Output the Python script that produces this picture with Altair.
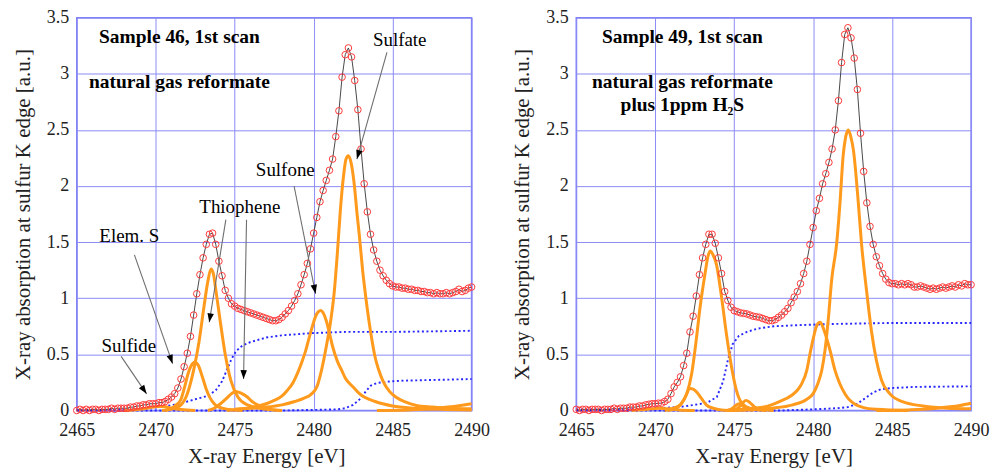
import math
import altair as alt
import pandas as pd

FONT = "Liberation Serif"
W, H = 396, 394
X_DOMAIN = [2465, 2490]
Y_DOMAIN = [0, 3.5]
X_TICKS = [2465, 2470, 2475, 2480, 2485, 2490]
Y_TICKS = [0, 0.5, 1, 1.5, 2, 2.5, 3, 3.5]

# ---------------- measured scan energies (eV) ----------------
ENERGY = [
    2465.0, 2465.2, 2465.4, 2465.6, 2465.8, 2466.0, 2466.2, 2466.4, 2466.6, 2466.8,
    2467.0, 2467.2, 2467.4, 2467.6, 2467.8, 2468.0, 2468.2, 2468.4, 2468.6, 2468.8,
    2469.0, 2469.2, 2469.4, 2469.6, 2469.8, 2470.0, 2470.2, 2470.4, 2470.6, 2470.8,
    2471.0, 2471.2, 2471.4, 2471.6, 2471.8, 2472.0, 2472.2, 2472.4, 2472.6, 2472.8,
    2473.0, 2473.2, 2473.4, 2473.6, 2473.8, 2474.0, 2474.2, 2474.4, 2474.6, 2474.8,
    2475.0, 2475.2, 2475.4, 2475.6, 2475.8, 2476.0, 2476.2, 2476.4, 2476.6, 2476.8,
    2477.0, 2477.2, 2477.4, 2477.6, 2477.8, 2478.0, 2478.2, 2478.4, 2478.6, 2478.8,
    2479.0, 2479.2, 2479.4, 2479.6, 2479.8, 2480.0, 2480.2, 2480.4, 2480.6, 2480.8,
    2481.0, 2481.2, 2481.4, 2481.6, 2481.8, 2482.0, 2482.2, 2482.4, 2482.6, 2482.8,
    2483.0, 2483.2, 2483.4, 2483.6, 2483.8, 2484.0, 2484.2, 2484.4, 2484.6, 2484.8,
    2485.0, 2485.2, 2485.4, 2485.6, 2485.8, 2486.0, 2486.2, 2486.4, 2486.6, 2486.8,
    2487.0, 2487.2, 2487.4, 2487.6, 2487.8, 2488.0, 2488.2, 2488.4, 2488.6, 2488.8,
    2489.0, 2489.2, 2489.4, 2489.6, 2489.8, 2490.0,
]

# ---------------- Sample 46 (left) ----------------
S46_DATA = [
    0.00, 0.01, 0.00, 0.01, 0.00, 0.01, 0.01, 0.00, 0.01, 0.01,
    0.01, 0.02, 0.01, 0.02, 0.02, 0.02, 0.02, 0.03, 0.03, 0.04,
    0.04, 0.05, 0.05, 0.06, 0.06, 0.06, 0.07, 0.07, 0.08, 0.10,
    0.12, 0.15, 0.20, 0.28, 0.39, 0.51, 0.66, 0.85, 1.04, 1.21,
    1.36, 1.48, 1.57, 1.58, 1.48, 1.33, 1.20, 1.07, 1.00, 0.95,
    0.93, 0.91, 0.90, 0.89, 0.88, 0.87, 0.86, 0.85, 0.84, 0.83,
    0.82, 0.81, 0.80, 0.80, 0.81, 0.83, 0.86, 0.89, 0.93, 0.98,
    1.04, 1.12, 1.21, 1.31, 1.44, 1.58, 1.72, 1.86, 1.96, 2.05,
    2.14, 2.24, 2.44, 2.67, 2.97, 3.17, 3.23, 3.15, 2.94, 2.68,
    2.33, 2.02, 1.77, 1.57, 1.43, 1.33, 1.25, 1.20, 1.16, 1.13,
    1.11, 1.10, 1.10, 1.09, 1.09, 1.08, 1.08, 1.07, 1.07, 1.06,
    1.06, 1.05, 1.05, 1.04, 1.05, 1.04, 1.04, 1.05, 1.04, 1.05,
    1.06, 1.08, 1.06, 1.07, 1.09, 1.10,
]

S46_SULFIDE = [(2468.0, 0.0), (2469.0, 0.01), (2469.6, 0.025), (2470.1, 0.035), (2470.5, 0.035),
               (2471.0, 0.02), (2471.6, 0.008), (2472.5, 0.0)]
S46_ELEM_S = [(2470.4, 0.0), (2471.0, 0.02), (2471.3, 0.05), (2471.6, 0.10), (2471.85, 0.22),
              (2472.05, 0.33), (2472.25, 0.40), (2472.48, 0.43), (2472.7, 0.40), (2472.95, 0.30),
              (2473.2, 0.19), (2473.45, 0.11), (2473.7, 0.06), (2474.0, 0.03), (2474.6, 0.01), (2475.5, 0.0)]
S46_THIO_1 = [(2470.6, 0.0), (2471.2, 0.02), (2471.6, 0.05), (2472.0, 0.15), (2472.4, 0.36),
              (2472.75, 0.62), (2473.05, 0.92), (2473.3, 1.15), (2473.5, 1.26), (2473.65, 1.22),
              (2473.8, 1.08), (2474.1, 0.78), (2474.4, 0.50), (2474.75, 0.27), (2475.2, 0.12),
              (2475.8, 0.05), (2476.6, 0.02), (2478.0, 0.0)]
S46_THIO_2 = [(2473.3, 0.0), (2473.7, 0.02), (2474.1, 0.06), (2474.5, 0.11), (2474.8, 0.15),
              (2475.07, 0.17), (2475.4, 0.155), (2475.8, 0.12), (2476.1, 0.08), (2476.45, 0.05),
              (2476.8, 0.025), (2477.2, 0.01), (2478.0, 0.0)]
S46_SULFONE = [(2474.5, 0.0), (2475.5, 0.015), (2476.2, 0.03), (2477.0, 0.06), (2477.5, 0.09),
               (2478.0, 0.13), (2478.34, 0.18), (2478.7, 0.25), (2479.0, 0.34), (2479.3, 0.45),
               (2479.5, 0.535), (2479.7, 0.64), (2479.9, 0.74), (2480.1, 0.83), (2480.3, 0.88),
               (2480.45, 0.89), (2480.6, 0.87), (2480.8, 0.80), (2481.0, 0.69), (2481.2, 0.57),
               (2481.5, 0.44), (2481.8, 0.35), (2482.0, 0.29), (2482.5, 0.21), (2482.9, 0.15),
               (2483.9, 0.08), (2485.0, 0.04), (2486.4, 0.02), (2488.0, 0.01), (2490.0, 0.005)]
S46_SULFATE = [(2475.0, 0.01), (2476.0, 0.02), (2477.0, 0.03), (2478.0, 0.05), (2478.8, 0.08),
               (2479.4, 0.11), (2479.8, 0.14), (2480.2, 0.21), (2480.5, 0.36), (2480.8, 0.57),
               (2481.1, 0.82), (2481.3, 1.05), (2481.5, 1.40), (2481.7, 1.80), (2481.9, 2.10),
               (2482.05, 2.24), (2482.2, 2.27), (2482.35, 2.22), (2482.55, 2.04), (2482.75, 1.75),
               (2482.9, 1.55), (2483.1, 1.25), (2483.3, 1.01), (2483.5, 0.80), (2483.7, 0.62),
               (2483.9, 0.47), (2484.1, 0.37), (2484.4, 0.26), (2484.8, 0.17), (2485.2, 0.12),
               (2485.8, 0.076), (2486.5, 0.045), (2487.5, 0.03), (2488.5, 0.02), (2490.0, 0.015)]
S46_HIGH = [(2484.0, 0.0), (2486.0, 0.005), (2487.5, 0.015), (2488.5, 0.03), (2489.3, 0.045), (2490.0, 0.06)]

S46_STEP_1 = [(2465.0, 0.0), (2467.0, 0.005), (2468.5, 0.01), (2469.5, 0.02), (2470.5, 0.035),
              (2471.5, 0.06), (2472.5, 0.10), (2473.3, 0.13), (2473.8, 0.18), (2474.2, 0.26),
              (2474.5, 0.36), (2474.8, 0.46), (2475.1, 0.53), (2475.5, 0.58), (2476.0, 0.61),
              (2476.5, 0.63), (2477.0, 0.65), (2478.0, 0.67), (2479.0, 0.68), (2480.0, 0.69),
              (2482.0, 0.70), (2485.0, 0.70), (2490.0, 0.71)]
S46_STEP_2 = [(2465.0, 0.0), (2478.0, 0.0), (2480.0, 0.005), (2481.5, 0.01), (2482.0, 0.02),
              (2482.5, 0.05), (2483.0, 0.11), (2483.3, 0.17), (2483.6, 0.22), (2484.0, 0.245),
              (2484.5, 0.255), (2485.5, 0.265), (2487.0, 0.27), (2490.0, 0.28)]

# label text, anchor energy, anchor value (baseline, left aligned)
S46_LABELS = [("Sulfate", 2483.75, 3.25), ("Sulfone", 2476.34, 2.09), ("Thiophene", 2472.76, 1.76),
              ("Elem. S", 2466.43, 1.50), ("Sulfide", 2466.56, 0.517)]
# arrows: start energy, start value, tip energy, tip value
S46_ARROWS = [(2484.64, 3.19, 2482.74, 2.24), (2478.76, 2.00, 2480.12, 1.04),
              (2474.44, 1.70, 2473.39, 0.786), (2475.75, 1.70, 2475.56, 0.28),
              (2468.65, 1.387, 2471.07, 0.417), (2467.81, 0.482, 2469.42, 0.148)]
S46_TITLES = [("Sample 46, 1st scan", 2471.5, 3.27), ("natural gas reformate", 2471.5, 2.87)]

# ---------------- Sample 49 (right) ----------------
S49_DATA = [
    0.01, 0.00, 0.01, 0.01, 0.00, 0.01, 0.01, 0.01, 0.00, 0.01,
    0.01, 0.01, 0.02, 0.01, 0.02, 0.02, 0.02, 0.03, 0.03, 0.03,
    0.04, 0.04, 0.05, 0.055, 0.06, 0.06, 0.065, 0.065, 0.08, 0.10,
    0.15, 0.21, 0.25, 0.30, 0.40, 0.51, 0.70, 0.84, 1.02, 1.21,
    1.36, 1.48, 1.57, 1.57, 1.49, 1.36, 1.22, 1.06, 0.98, 0.92,
    0.89, 0.88, 0.87, 0.865, 0.86, 0.85, 0.84, 0.835, 0.83, 0.82,
    0.81, 0.80, 0.80, 0.81, 0.83, 0.85, 0.88, 0.91, 0.96, 1.01,
    1.06, 1.13, 1.22, 1.33, 1.48, 1.63, 1.78, 1.89, 2.02, 2.11,
    2.21, 2.33, 2.50, 2.76, 3.10, 3.35, 3.41, 3.32, 3.14, 2.86,
    2.47, 2.13, 1.85, 1.64, 1.48, 1.37, 1.29, 1.22, 1.17, 1.14,
    1.13, 1.13, 1.12, 1.13, 1.12, 1.13, 1.12, 1.10, 1.10, 1.11,
    1.10, 1.09, 1.08, 1.09, 1.08, 1.09, 1.10, 1.09, 1.10, 1.11,
    1.10, 1.12, 1.11, 1.13, 1.12, 1.12,
]

S49_SULFIDE = [(2468.5, 0.0), (2469.5, 0.01), (2470.2, 0.02), (2470.8, 0.015), (2471.5, 0.005), (2472.5, 0.0)]
S49_ELEM_S = [(2470.8, 0.0), (2471.3, 0.02), (2471.6, 0.05), (2471.9, 0.12), (2472.2, 0.195),
              (2472.4, 0.19), (2472.62, 0.165), (2472.94, 0.105), (2473.25, 0.047), (2473.67, 0.02),
              (2474.2, 0.005), (2475.0, 0.0)]
S49_THIO_1 = [(2470.6, 0.0), (2471.16, 0.02), (2471.58, 0.05), (2472.0, 0.15), (2472.31, 0.33),
              (2472.59, 0.62), (2472.84, 0.92), (2473.15, 1.215), (2473.35, 1.38), (2473.5, 1.42),
              (2473.65, 1.39), (2473.88, 1.30), (2474.2, 1.01), (2474.51, 0.68), (2474.83, 0.39),
              (2475.14, 0.18), (2475.46, 0.07), (2475.98, 0.02), (2477.0, 0.0)]
S49_THIO_2A = [(2474.6, 0.0), (2474.9, 0.02), (2475.1, 0.045), (2475.3, 0.06), (2475.5, 0.045),
               (2475.8, 0.02), (2476.2, 0.0)]
S49_THIO_2B = [(2475.0, 0.0), (2475.3, 0.03), (2475.55, 0.07), (2475.75, 0.09), (2476.0, 0.07),
               (2476.3, 0.03), (2476.7, 0.01), (2477.5, 0.0)]
S49_SULFONE = [(2474.5, 0.0), (2476.13, 0.02), (2476.97, 0.033), (2477.82, 0.077), (2478.65, 0.136),
               (2479.0, 0.18), (2479.28, 0.24), (2479.6, 0.36), (2479.8, 0.505), (2480.02, 0.65),
               (2480.23, 0.757), (2480.44, 0.786), (2480.6, 0.75), (2480.75, 0.69), (2481.07, 0.535),
               (2481.38, 0.36), (2481.6, 0.27), (2481.85, 0.19), (2482.2, 0.11), (2482.6, 0.06),
               (2483.2, 0.025), (2484.0, 0.01), (2486.0, 0.0)]
S49_SULFATE = [(2475.0, 0.0), (2477.4, 0.02), (2478.7, 0.05), (2479.6, 0.10), (2480.0, 0.15),
               (2480.3, 0.24), (2480.55, 0.36), (2480.75, 0.535), (2480.97, 0.83), (2481.17, 1.16),
               (2481.49, 1.49), (2481.7, 1.85), (2481.9, 2.27), (2482.05, 2.43), (2482.23, 2.50),
               (2482.4, 2.43), (2482.55, 2.32), (2482.86, 1.85), (2483.06, 1.49), (2483.38, 1.07),
               (2483.69, 0.71), (2484.0, 0.45), (2484.33, 0.27), (2484.85, 0.15), (2485.7, 0.076),
               (2486.95, 0.04), (2488.5, 0.02), (2490.0, 0.015)]
S49_HIGH = [(2484.0, 0.0), (2486.0, 0.005), (2487.5, 0.015), (2488.5, 0.03), (2489.3, 0.045), (2490.0, 0.065)]

S49_STEP_1 = [(2465.0, 0.01), (2468.0, 0.01), (2470.0, 0.02), (2471.5, 0.03), (2472.5, 0.05),
              (2473.3, 0.07), (2473.9, 0.12), (2474.3, 0.26), (2474.6, 0.45), (2474.9, 0.59),
              (2475.3, 0.665), (2475.8, 0.70), (2476.5, 0.73), (2477.5, 0.75), (2479.0, 0.76),
              (2481.0, 0.77), (2485.0, 0.78), (2490.0, 0.78)]
S49_STEP_2 = [(2465.0, 0.0), (2478.0, 0.0), (2480.0, 0.01), (2481.5, 0.02), (2482.2, 0.03),
              (2482.8, 0.06), (2483.4, 0.12), (2483.8, 0.16), (2484.3, 0.19), (2485.0, 0.20),
              (2486.5, 0.21), (2490.0, 0.215)]

S49_LABELS = []
S49_ARROWS = []
S49_TITLES = [("Sample 49, 1st scan", 2471.72, 3.27), ("natural gas reformate", 2471.72, 2.87),
              ("plus 1ppm H\u2082S", 2471.72, 2.665)]

# ---------------- styling ----------------
RED = "#ff3b3b"
ORANGE = "#ff9a1c"
BLUE = "#2626ff"
GRID = "#8c8cf6"
ARROW_LINE = "#6e6e6e"
ARROW_HEAD = "M0,0L-0.36,1L0.36,1Z"


def comp_frame(named):
    rows = []
    for name, pts in named.items():
        for e, v in pts:
            rows.append({"E": e, "v": v, "c": name})
    return pd.DataFrame(rows)


def arrow_frame(arrows):
    ppx = W / (X_DOMAIN[1] - X_DOMAIN[0])
    ppy = H / (Y_DOMAIN[1] - Y_DOMAIN[0])
    rows = []
    for e0, v0, e1, v1 in arrows:
        dx = (e1 - e0) * ppx
        dy_up = (v1 - v0) * ppy
        ang = math.degrees(math.atan2(dx, dy_up)) % 360
        rows.append({"E": e0, "v": v0, "E2": e1, "v2": v1, "ang": ang})
    return pd.DataFrame(rows, columns=["E", "v", "E2", "v2", "ang"])


def panel(data_vals, comps, steps, labels, arrows, titles, x_axis_extra):
    xs = alt.Scale(domain=X_DOMAIN, nice=False, zero=False)
    ys = alt.Scale(domain=Y_DOMAIN, nice=False)
    xax = alt.Axis(values=X_TICKS, format="d", title="X-ray Energy [eV]", labelFlush=False, **x_axis_extra)
    yax = alt.Axis(values=Y_TICKS, format="~g", title="X-ray absorption at sulfur K edge [a.u.]",
                   labelFlush=False)
    X = alt.X("E:Q", scale=xs, axis=xax)
    Y = alt.Y("v:Q", scale=ys, axis=yax)

    scan = pd.DataFrame({"E": ENERGY, "v": data_vals})

    layers = []
    layers.append(
        alt.Chart(comp_frame(steps)).mark_line(color=BLUE, strokeWidth=1.9, strokeDash=[2, 2.6])
        .encode(x=X, y=Y, detail="c:N")
    )
    layers.append(
        alt.Chart(comp_frame(comps)).mark_line(color=ORANGE, strokeWidth=3, interpolate="monotone")
        .encode(x=X, y=Y, detail="c:N")
    )
    layers.append(
        alt.Chart(scan).mark_line(color="#333333", strokeWidth=0.9).encode(x=X, y=Y)
    )
    layers.append(
        alt.Chart(scan).mark_point(shape="circle", filled=False, color=RED, size=44, strokeWidth=1, opacity=1)
        .encode(x=X, y=Y)
    )
    if arrows:
        af = arrow_frame(arrows)
        layers.append(
            alt.Chart(af).mark_rule(color=ARROW_LINE, strokeWidth=1.1)
            .encode(x=X, y=Y, x2="E2:Q", y2="v2:Q")
        )
        layers.append(
            alt.Chart(af).mark_point(shape=ARROW_HEAD, filled=True, color="black", size=324, opacity=1)
            .encode(x=alt.X("E2:Q", scale=xs, axis=xax), y=alt.Y("v2:Q", scale=ys, axis=yax),
                    angle=alt.Angle("ang:Q", scale=None))
        )
    if labels:
        lf = pd.DataFrame(labels, columns=["t", "E", "v"])
        layers.append(
            alt.Chart(lf).mark_text(font=FONT, fontSize=19, align="left", baseline="alphabetic", color="black")
            .encode(x=X, y=Y, text="t:N")
        )
    tf = pd.DataFrame(titles, columns=["t", "E", "v"])
    layers.append(
        alt.Chart(tf).mark_text(font=FONT, fontSize=19.5, fontWeight="bold", align="center",
                                baseline="alphabetic", color="black")
        .encode(x=X, y=Y, text="t:N")
    )
    return alt.layer(*layers).properties(width=W, height=H)


left = panel(
    S46_DATA,
    {"sulfide": S46_SULFIDE, "elem": S46_ELEM_S, "thio1": S46_THIO_1, "thio2": S46_THIO_2,
     "sulfone": S46_SULFONE, "sulfate": S46_SULFATE, "high": S46_HIGH},
    {"step1": S46_STEP_1, "step2": S46_STEP_2},
    S46_LABELS, S46_ARROWS, S46_TITLES, {"titleX": 190},
)
right = panel(
    S49_DATA,
    {"sulfide": S49_SULFIDE, "elem": S49_ELEM_S, "thio1": S49_THIO_1, "thio2a": S49_THIO_2A,
     "thio2b": S49_THIO_2B, "sulfone": S49_SULFONE, "sulfate": S49_SULFATE, "high": S49_HIGH},
    {"step1": S49_STEP_1, "step2": S49_STEP_2},
    S49_LABELS, S49_ARROWS, S49_TITLES, {},
)

chart = (
    alt.hconcat(left, right, spacing=105, bounds="flush")
    .properties(padding={"left": 11, "top": 7, "right": 5, "bottom": 5}, background="white")
    .configure_view(stroke="#7f7ff8", strokeWidth=1.5)
    .configure_axis(
        labelFont=FONT, titleFont=FONT, labelFontSize=18, titleFontSize=21,
        titleFontWeight="normal", labelColor="#222222", titleColor="#222222",
        gridColor=GRID, gridWidth=1, gridOpacity=1, domain=False, ticks=False,
    )
    .configure_axisX(labelPadding=11, titlePadding=6)
    .configure_axisY(labelPadding=8, titlePadding=13)
)

chart.save("out.html", embed_options={"renderer": "svg", "actions": False})
